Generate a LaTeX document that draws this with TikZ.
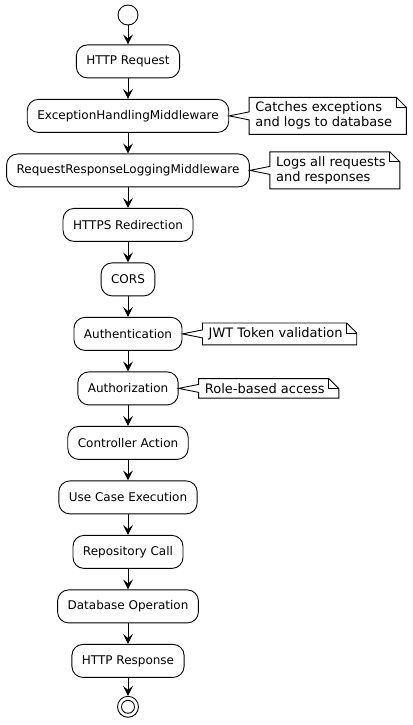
\documentclass[tikz,border=0pt]{standalone}
\usepackage{fontspec}
\setmainfont{DejaVu Sans}
\usetikzlibrary{arrows.meta,positioning,calc}

\tikzset{
  action/.style={draw, rounded corners=11pt, minimum height=33pt, inner xsep=10pt,
    font=\fontsize{12}{14}\selectfont, line width=0.9pt},
  notetext/.style={align=left, inner xsep=6pt, inner ysep=4.5pt,
    font=\fontsize{13}{15}\selectfont},
  flow/.style={-{Stealth[length=10pt,width=10pt,inset=4pt]}, line width=0.9pt},
  noteline/.style={line width=0.9pt},
}
% note outline with folded corner and pointer to its action
\newcommand{\notebox}[2]{%
  \draw[noteline] (#1.north west) -- ($(#1.north east)+(-2,0)$)
    -- ($(#1.north east)+(8,-10)$) -- ($(#1.south east)+(8,0)$)
    -- (#1.south west) -- ($(#1.west)+(0,-4)$) -- (#2.east)
    -- ($(#1.west)+(0,4)$) -- cycle;
  \draw[noteline] ($(#1.north east)+(-2,0)$) -- ($(#1.north east)+(-2,-10)$)
    -- ($(#1.north east)+(8,-10)$);
}

\begin{document}
\begin{tikzpicture}[x=1pt, y=1pt, node distance=20.6pt]
  \useasboundingbox (0,0) rectangle (412,-725);
  % start
  \node[circle, draw, line width=0.9pt, minimum size=20pt, inner sep=0pt] (start) at (128,-15) {};
  % pipeline
  \node[action, below=19pt of start] (req) {HTTP Request};
  \node[action, below=of req] (exc) {ExceptionHandlingMiddleware};
  \node[action, below=of exc] (log) {RequestResponseLoggingMiddleware};
  \node[action, below=of log] (https) {HTTPS Redirection};
  \node[action, below=of https] (cors) {CORS};
  \node[action, below=of cors] (authn) {Authentication};
  \node[action, below=of authn] (authz) {Authorization};
  \node[action, below=of authz] (ctrl) {Controller Action};
  \node[action, below=of ctrl] (usecase) {Use Case Execution};
  \node[action, below=of usecase] (repo) {Repository Call};
  \node[action, below=of repo] (db) {Database Operation};
  \node[action, below=of db] (resp) {HTTP Response};
  % stop
  \node[circle, draw, line width=0.9pt, minimum size=21pt, inner sep=0pt, below=18pt of resp] (stop) {};
  \node[circle, draw, line width=0.9pt, minimum size=13pt, inner sep=0pt] (stopdot) at (stop) {};
  % arrows
  \foreach \a/\b in {start/req, req/exc, exc/log, log/https, https/cors, cors/authn,
      authn/authz, authz/ctrl, ctrl/usecase, usecase/repo, repo/db, db/resp, resp/stop}
    \draw[flow] (\a) -- (\b);
  % notes
  \node[notetext, right=20pt of exc] (noteexc) {Catches exceptions\\and logs to database};
  \node[notetext, right=20pt of log] (notelog) {Logs all requests\\and responses};
  \node[notetext, right=20pt of authn] (noteauthn) {JWT Token validation};
  \node[notetext, right=20pt of authz] (noteauthz) {Role-based access};
  \notebox{noteexc}{exc}
  \notebox{notelog}{log}
  \notebox{noteauthn}{authn}
  \notebox{noteauthz}{authz}
\end{tikzpicture}
\end{document}
